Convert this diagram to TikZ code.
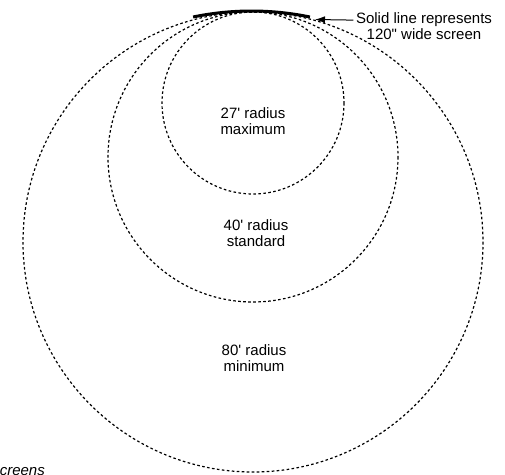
\documentclass[tikz,border=0pt]{standalone}
\usepackage{fontspec}
\newfontfamily\lab{Liberation Sans}
\usetikzlibrary{arrows.meta}
\tikzset{
  ring/.style={draw=black, line width=1.2bp, dash pattern=on 2.6bp off 2.4bp},
  screenarc/.style={draw=black, line width=3bp},
  lbl/.style={font=\lab\fontsize{15bp}{16.5bp}\selectfont, align=center, inner sep=0pt},
  pointer/.style={draw=black, line width=1bp, -{Latex[length=10bp,width=7bp]}}
}
\begin{document}
\begin{tikzpicture}[x=1bp,y=-1bp]
\useasboundingbox (0,0) rectangle (505,475);
% circles, all tangent at the top
\draw[ring] (253,103) circle[radius=91];
\draw[ring] (253,157) circle[radius=145];
\draw[ring] (253,242) circle[radius=230];
% screen arc
\draw[screenarc] (251.5,299) ++(-101.7:288) arc[start angle=-101.7, end angle=-78.3, radius=288];
\coordinate (scrtip) at (315,19.5);
% labels
\node[lbl] (c27) at (253,121) {27' radius\\maximum};
\node[lbl] (c40) at (256,233) {40' radius\\standard};
\node[lbl] (c80) at (254,358) {80' radius\\minimum};
\node[lbl, anchor=base, inner xsep=2.5bp] (note1) at (424,24) {Solid line represents};
\node[lbl, anchor=base] (note2) at (424,40) {120" wide screen};
\draw[pointer] (note1.west) -- (scrtip);
\node[lbl, anchor=base east, font=\lab\itshape\fontsize{15bp}{16.5bp}\selectfont] (cap) at (45,475) {screens};
\end{tikzpicture}
\end{document}
